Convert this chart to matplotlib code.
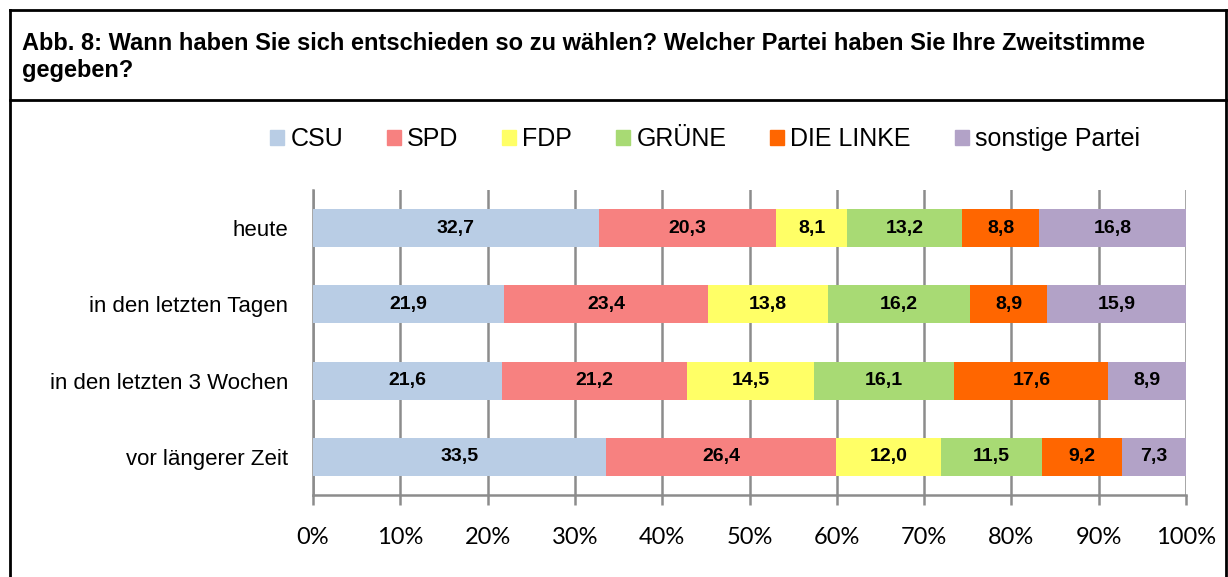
import numpy as np
import matplotlib
matplotlib.use("Agg")
import matplotlib.pyplot as plt
from matplotlib.patches import Rectangle
from matplotlib.lines import Line2D

categories = ["heute", "in den letzten Tagen", "in den letzten 3 Wochen", "vor längerer Zeit"]
parties = ["CSU", "SPD", "FDP", "GRÜNE", "DIE LINKE", "sonstige Partei"]
colors = ["#B9CDE5", "#F78180", "#FFFF66", "#A8DA74", "#FF6600", "#B2A2C7"]

csu = [32.7, 21.9, 21.6, 33.5]
spd = [20.3, 23.4, 21.2, 26.4]
fdp = [8.1, 13.8, 14.5, 12.0]
gruene = [13.2, 16.2, 16.1, 11.5]
linke = [8.8, 8.9, 17.6, 9.2]
sonstige = [16.8, 15.9, 8.9, 7.3]
series = [csu, spd, fdp, gruene, linke, sonstige]

plt.rcParams['font.family'] = ['Liberation Sans', 'DejaVu Sans']

fig = plt.figure(figsize=(12.28, 5.77), dpi=100)

# frame around the figure like the report box
W, H = 1228, 577
def fx(px): return px / W
def fy(py): return 1 - py / H
fig.add_artist(Line2D([fx(10), fx(1226)], [fy(10), fy(10)], color="black", lw=2))
fig.add_artist(Line2D([fx(10), fx(1226)], [fy(100), fy(100)], color="black", lw=2))
fig.add_artist(Line2D([fx(10), fx(10)], [fy(10), 0], color="black", lw=2))
fig.add_artist(Line2D([fx(1226), fx(1226)], [fy(10), 0], color="black", lw=2))

fig.text(fx(22), fy(57), "Abb. 8: Wann haben Sie sich entschieden so zu wählen? Welcher Partei haben Sie Ihre Zweitstimme\ngegeben?",
         fontsize=17, fontweight="bold", va="center", ha="left", linespacing=1.25)

ax = fig.add_axes([fx(313), fy(495), fx(1186) - fx(313), (495 - 190) / H])

# normalise to 100%
data = np.array(series)
pct = data / data.sum(axis=0) * 100
y = np.arange(len(categories))
left = np.zeros(len(categories))
for i, p in enumerate(parties):
    ax.barh(y, pct[i], left=left, height=0.5, color=colors[i], label=p, zorder=3)
    for j in range(len(categories)):
        ax.text(left[j] + pct[i][j] / 2, y[j], f"{data[i][j]:.1f}".replace(".", ","),
                ha="center", va="center", fontsize=14, fontweight="bold", zorder=4)
    left += pct[i]

ax.set_xlim(0, 100)
ax.set_ylim(3.5, -0.5)
ax.set_yticks(y)
ax.set_yticklabels(categories, fontsize=16)
ax.set_xticks(np.arange(0, 101, 10))
ax.set_xticklabels([f"{v}%" for v in range(0, 101, 10)], fontsize=17,
                   family=['Lato', 'DejaVu Sans'])
ax.xaxis.grid(True, color="#8C8C8C", lw=1.8, zorder=0)
ax.tick_params(axis="x", length=7, width=1.8, color="#8C8C8C", pad=16)
ax.tick_params(axis="y", length=0, pad=18)
for s in ["top", "right"]:
    ax.spines[s].set_visible(False)
ax.spines["left"].set_color("#8C8C8C")
ax.spines["left"].set_linewidth(1.8)
ax.spines["bottom"].set_color("#8C8C8C")
ax.spines["bottom"].set_linewidth(1.8)

handles = [Rectangle((0, 0), 1, 1, color=c) for c in colors]
fig.legend(handles, parties, loc="center", bbox_to_anchor=(fx(705), fy(139)), ncol=6,
           frameon=False, fontsize=18, handlelength=0.56, handleheight=0.56,
           handletextpad=0.25, columnspacing=1.75)

fig.savefig("out.png", dpi=100)
